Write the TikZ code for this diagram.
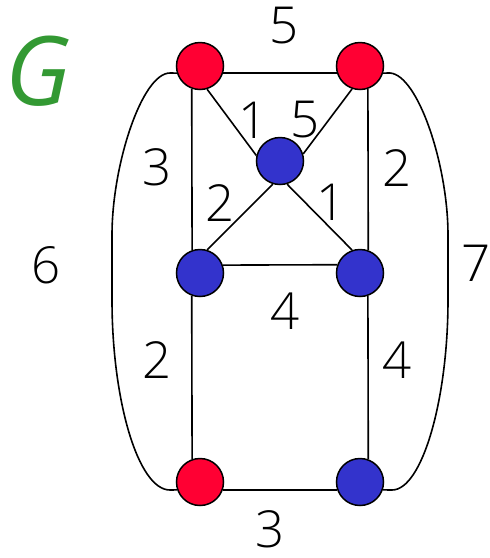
\documentclass[tikz,border=0pt]{standalone}
\usepackage{fontspec}
\setmainfont{Open Sans}
\newfontfamily\lightsans{Open Sans Light}
\definecolor{nred}{HTML}{FF0033}
\definecolor{nblue}{HTML}{3333CC}
\definecolor{ggreen}{HTML}{339933}
\begin{document}
\begin{tikzpicture}[x=1pt,y=-1pt,
  vtx/.style={circle,draw=black,line width=1.5pt,minimum size=47pt,inner sep=0pt},
  rv/.style={vtx,fill=nred},
  bv/.style={vtx,fill=nblue},
  edge/.style={draw=black,line width=1.6pt},
  wt/.style={font=\lightsans\fontsize{51}{60}\selectfont,inner sep=0pt}]
\useasboundingbox (0,0) rectangle (490,558);
\node[rv] (tl) at (200,66) {};
\node[rv] (tr) at (360,66) {};
\node[bv] (c)  at (280,161) {};
\node[bv] (ml) at (200,273) {};
\node[bv] (mr) at (360,273) {};
\node[rv] (bl) at (200,482) {};
\node[bv] (br) at (360,482) {};
\coordinate (l1) at (170,73);
\coordinate (l2) at (112,235);
\coordinate (l3) at (112,300);
\coordinate (l4) at (170,490);
\coordinate (r1) at (390,73);
\coordinate (r2) at (448,235);
\coordinate (r3) at (448,300);
\coordinate (r4) at (392,490);
\path[edge] (tl.-17) -- (tr.197);
\path[edge] (tl.250.5) -- (ml.109.5);
\path[edge] (ml.250.5) -- (bl.109.5);
\path[edge] (tr.289.5) -- (mr.70.5);
\path[edge] (mr.289.5) -- (br.70.5);
\path[edge] (ml.19.5) -- (mr.160.5);
\path[edge] (bl.-19.5) -- (br.199.5);
\path[edge] (tl.-73) -- (c.167);
\path[edge] (tr.251) -- (c.17);
\path[edge] (c.-73) -- (mr.109);
\path[edge] (c.253) -- (ml.73);
\path[edge] (tl.197) -- (l1) .. controls (142,73) and (112,165) .. (l2) -- (l3) .. controls (112,400) and (138,490) .. (l4) -- (bl.199.5);
\path[edge] (tr.-17) -- (r1) .. controls (418,75) and (448,165) .. (r2) -- (r3) .. controls (448,400) and (422,490) .. (r4) -- (br.-19.5);
\node[font=\fontsize{96}{100}\itshape\selectfont,text=ggreen,inner sep=0pt] (g) at (38,71) {G};
\node[wt] (w1) at (284,26) {5};
\node[wt] (w2) at (253,120) {1};
\node[wt] (w3) at (305,120) {5};
\node[wt] (w4) at (157,167) {3};
\node[wt] (w5) at (220,203) {2};
\node[wt] (w6) at (397,168) {2};
\node[wt] (w7) at (331,202) {1};
\node[wt] (w8) at (46,265) {6};
\node[wt] (w9) at (476,263) {7};
\node[wt] (w10) at (285,311) {4};
\node[wt] (w11) at (397,360) {4};
\node[wt] (w12) at (157,360) {2};
\node[wt] (w13) at (270,529) {3};
\end{tikzpicture}
\end{document}
